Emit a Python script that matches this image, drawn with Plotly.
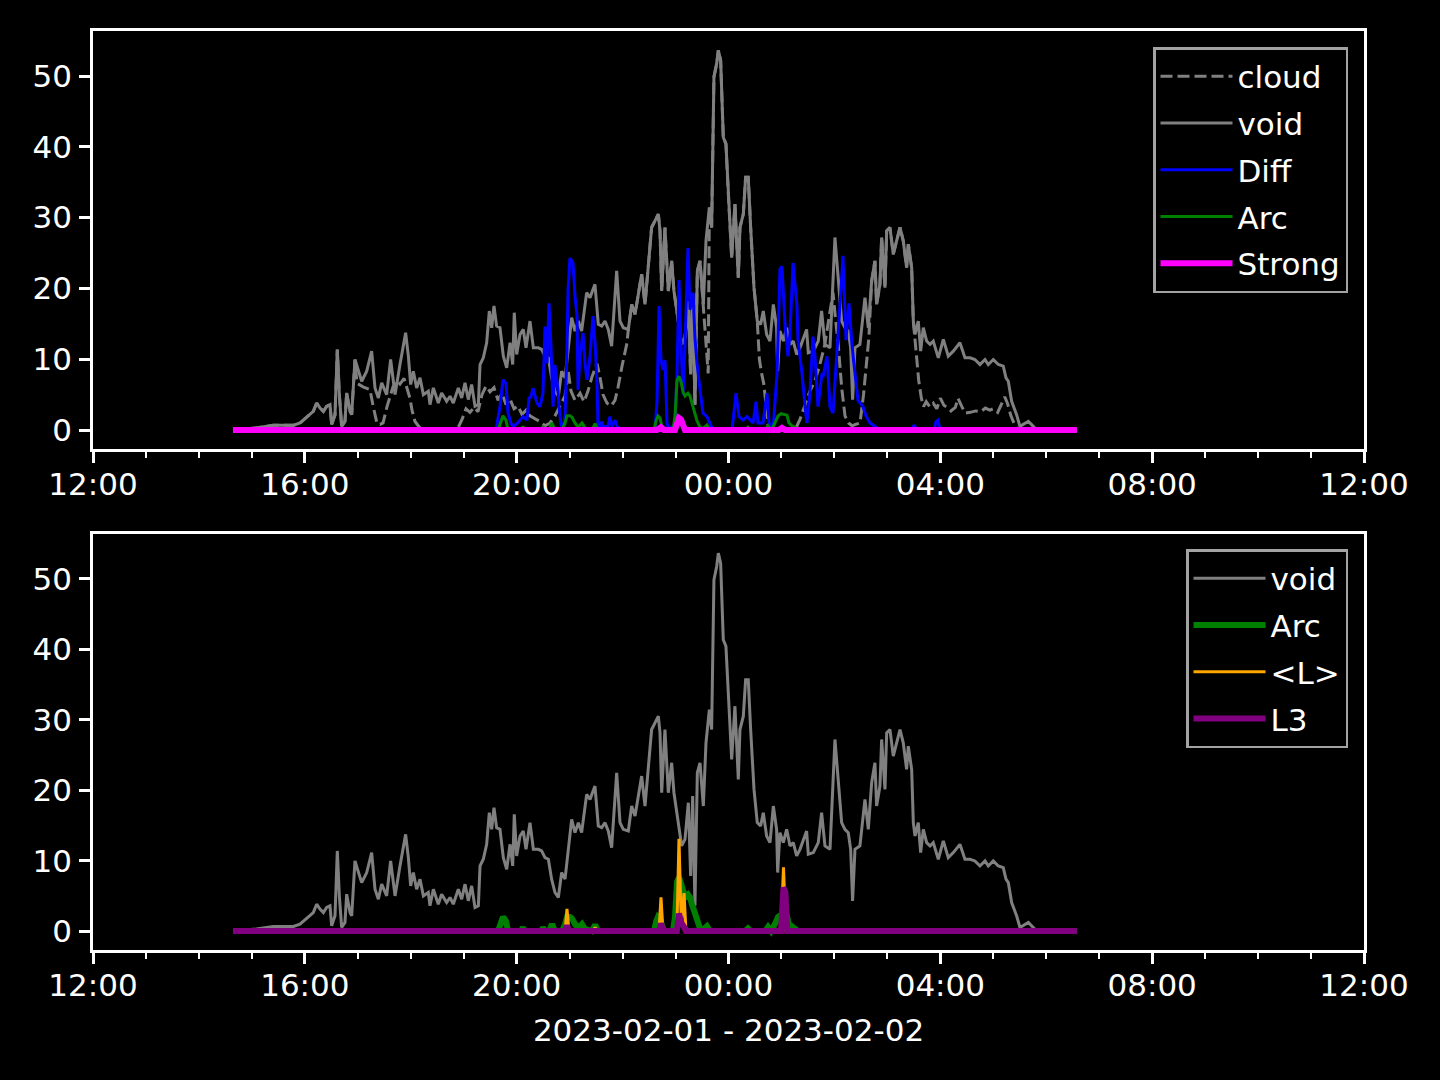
import pandas as pd
import plotly.graph_objects as go

T0 = pd.Timestamp("2023-02-01 12:00")
X_END = pd.Timestamp("2023-02-02 12:00")

# ---- data (times in minutes after 2023-02-01 12:00) ----
void_min = [158.6, 185.0, 204.3, 227.0, 234.5, 245.9, 249.6, 253.4, 257.2, 261.0, 264.7, 268.5, 270.4, 274.2,
            276.8, 279.1, 281.7, 285.5, 287.4, 291.2, 293.1, 296.8, 300.6, 304.4, 310.1, 315.7, 319.5, 323.3,
            327.1, 332.7, 337.2, 342.2, 347.8, 354.2, 357.3, 359.9, 362.9, 366.7, 370.5, 374.3, 379.9, 381.8,
            385.6, 391.2, 395.0, 400.7, 404.5, 408.2, 413.9, 417.7, 421.5, 425.2, 429.0, 432.8, 436.6, 438.5,
            442.2, 446.0, 449.0, 451.7, 454.3, 457.3, 461.1, 464.9, 468.7, 472.5, 475.5, 477.3, 480.0, 483.8,
            487.5, 490.6, 495.1, 498.9, 504.5, 508.3, 512.1, 515.9, 519.6, 523.4, 527.2, 531.0, 534.8, 538.5,
            542.3, 546.1, 549.9, 553.6, 559.3, 563.1, 568.7, 572.5, 576.3, 580.1, 583.8, 587.6, 593.3, 597.1,
            600.8, 606.5, 610.3, 614.1, 617.8, 621.6, 625.4, 629.2, 632.9, 636.7, 640.5, 642.4, 644.3, 648.0,
            651.8, 655.6, 658.2, 663.1, 666.9, 670.7, 674.5, 677.1, 679.4, 682.0, 684.7, 687.7, 691.5, 694.5,
            698.3, 700.9, 703.5, 706.6, 708.5, 711.1, 714.1, 717.1, 719.8, 723.6, 727.3, 731.1, 733.0, 736.8,
            739.4, 742.4, 745.1, 748.9, 752.6, 756.4, 759.4, 763.2, 767.0, 770.8, 774.5, 775.7, 778.3, 782.1,
            785.9, 789.7, 793.4, 797.2, 801.0, 808.5, 810.4, 816.1, 821.7, 825.5, 829.3, 835.0, 840.6, 844.4,
            848.2, 851.9, 855.7, 858.4, 860.6, 863.3, 868.9, 874.6, 878.4, 882.2, 885.9, 887.8, 891.6, 893.5,
            897.3, 899.2, 902.9, 906.7, 910.5, 914.3, 918.0, 921.8, 923.7, 927.5, 929.4, 931.3, 935.0, 937.7,
            940.7, 944.5, 948.3, 952.0, 957.7, 963.4, 969.0, 974.7, 982.2, 987.9, 993.6, 999.2, 1004.9, 1010.6,
            1014.3, 1020.0, 1025.7, 1031.3, 1034.4, 1037.0, 1040.8, 1046.4, 1050.2, 1054.0, 1059.7, 1065.3,
            1069.1, 1114.8]
void_val = [0, 0.3, 0.66, 0.66, 0.99, 2.17, 2.64, 3.82, 3.12, 2.64, 3.35, 3.59, 0.76, 2.17,
            11.38, 5.0, 0.52, 1.23, 5.24, 2.64, 2.17, 9.96, 8.31, 6.89, 8.31, 11.14, 5.95, 4.53,
            6.66, 5.0, 9.96, 5.0, 9.25, 13.74, 10.43, 6.42, 8.31, 5.95, 7.37, 5.0, 5.48, 3.59,
            5.95, 3.82, 5.24, 4.06, 4.77, 3.82, 5.95, 4.53, 6.66, 4.30, 6.42, 3.35, 3.59, 9.25,
            10.2, 12.32, 16.81, 14.45, 17.52, 14.68, 14.45, 10.43, 8.78, 12.32, 9.25, 16.57, 10.67, 13.5,
            14.21, 11.61, 15.39, 11.61, 11.61, 11.38, 10.43, 10.2, 7.37, 5.48, 4.77, 8.31, 7.37, 11.85,
            15.86, 13.98, 15.39, 13.98, 19.41, 18.7, 20.59, 14.92, 14.68, 15.39, 14.21, 11.85, 22.47, 15.39,
            14.45, 14.21, 17.75, 16.34, 19.17, 22.0, 17.75, 22.95, 28.61, 29.56, 30.5, 28.14, 19.64, 28.61,
            19.64, 23.89, 19.64, 15.39, 12.09, 13.03, 18.22, 7.84, 19.17, 3.59, 22.47, 23.89, 17.75, 26.72,
            31.44, 28.61, 49.86, 51.75, 53.64, 52.22, 41.36, 40.42, 33.33, 24.36, 31.92, 21.53, 28.61, 30.5,
            35.69, 35.69, 28.61, 20.11, 15.39, 14.92, 16.81, 13.5, 12.56, 17.75, 14.45, 8.31, 13.98, 12.56,
            14.45, 12.09, 12.56, 10.67, 11.61, 14.21, 10.91, 11.14, 12.56, 16.81, 12.09, 11.61, 27.2, 20.59,
            15.39, 14.45, 13.98, 11.61, 4.30, 11.61, 12.09, 18.7, 14.45, 21.06, 23.89, 17.75, 20.59, 27.2,
            20.11, 28.14, 28.61, 24.83, 26.72, 28.61, 26.72, 22.95, 26.25, 22.95, 15.39, 13.5, 15.39, 11.14,
            14.45, 12.56, 12.09, 12.56, 10.2, 12.8, 10.43, 11.14, 12.32, 10.2, 10.2, 9.96, 9.25, 9.96,
            9.25, 9.96, 9.25, 9.02, 7.37, 6.89, 4.06, 2.17, 0.52, 0.76, 1.23, 0.52,
            0, 0]

cloud_min = [158.6, 185.0, 204.3, 227.0, 234.5, 245.9, 249.6, 253.4, 257.2, 261.0, 264.7, 268.5, 270.4, 274.2,
             276.8, 279.1, 281.7, 285.5, 287.4, 291.2, 293.1, 296.8,
             299.1, 305.9, 313.8, 317.2, 321.8, 325.2, 328.6, 333.1, 336.5, 339.9, 344.4, 347.8, 352.4, 355.7,
             359.1, 361.4, 364.8, 370.5, 376.1, 410.1, 413.5, 418.1, 422.6, 427.1, 431.7, 436.2, 440.7, 445.3,
             449.8, 454.3, 458.9, 463.4, 467.9, 472.4, 477.0, 481.5, 486.0, 490.6, 495.1, 500.8, 506.4, 512.1,
             517.8, 523.4, 529.1, 534.8, 538.2, 541.6, 546.1, 551.8, 556.3, 560.8, 565.3, 571.0, 574.4, 577.8,
             582.3, 586.9, 591.4, 594.8, 599.3, 605.0,
             606.5, 610.3, 614.1, 617.8, 621.6, 625.4, 629.2, 632.9, 636.7, 640.5, 642.4, 644.3, 648.0,
             651.8, 655.6, 658.2, 663.1, 666.9, 670.7, 674.5, 677.1, 679.4, 682.0, 684.7, 687.7, 691.5,
             693.5, 695.6, 697.0,
             698.3, 700.9, 703.5, 706.6, 708.5, 711.1, 714.1, 717.1, 719.8, 723.6, 727.3, 731.1, 733.0, 736.8,
             739.4, 742.4, 745.1, 748.9, 752.6,
             755.0, 757.5, 760.0, 763.0, 765.0, 768.0, 795.3, 801.0, 806.7, 812.3, 818.0, 823.0, 829.0, 834.0,
             838.4, 841.0, 844.4, 848.2, 852.0, 856.0, 860.0, 864.0, 869.0, 873.0, 876.5, 879.0,
             882.2, 885.9, 887.8, 891.6, 893.5, 897.3, 899.2, 902.9, 906.7, 910.5, 914.3, 918.0, 921.8, 923.7,
             927.5, 929.4,
             933.0, 935.5, 938.5, 941.0, 944.0, 948.0, 952.0, 956.0, 960.0, 964.0, 968.0, 972.0, 977.0, 980.0,
             984.0, 988.0, 994.0, 1000.0, 1006.0, 1011.0, 1016.0, 1020.0, 1025.0, 1030.0, 1033.0, 1036.0,
             1040.0, 1044.0, 1048.0, 1114.8]
cloud_val = [0, 0.3, 0.66, 0.66, 0.99, 2.17, 2.64, 3.82, 3.12, 2.64, 3.35, 3.59, 0.76, 2.17,
             11.38, 5.0, 0.52, 1.23, 5.24, 2.64, 2.17, 9.96,
             6.6, 6.1, 5.7, 3.5, 0.9, 0.8, 1.0, 3.3, 4.7, 6.1, 7.0, 6.5, 7.3, 6.0,
             4.5, 2.8, 1.2, 0.3, 0, 0, 0.3, 1.5, 3.0, 2.5, 3.2, 2.6, 5.0, 6.2,
             5.4, 6.0, 4.2, 5.2, 3.6, 4.4, 3.0, 3.4, 2.2, 2.8, 2.0, 1.6, 1.2, 0.6,
             1.0, 2.0, 3.5, 4.8, 8.5, 5.5, 4.2, 5.2, 4.0, 5.5, 7.5, 9.4, 7.5, 5.0,
             3.8, 3.4, 4.2, 6.0, 9.0, 12.3,
             14.21, 17.75, 16.34, 19.17, 22.0, 17.75, 22.95, 28.61, 29.56, 30.5, 28.14, 19.64, 28.61,
             19.64, 23.89, 19.64, 15.39, 12.09, 13.03, 18.22, 7.84, 19.17, 3.59, 22.47, 23.89, 17.75,
             14.0, 10.0, 8.0,
             31.44, 28.61, 49.86, 51.75, 53.64, 52.22, 41.36, 40.42, 33.33, 24.36, 31.92, 21.53, 28.61, 30.5,
             35.69, 35.69, 28.61, 20.11, 15.39,
             10.0, 8.0, 6.5, 3.0, 0.5, 0, 0, 1.5, 3.5, 5.5, 7.0, 9.0, 12.0, 16.0,
             19.4, 16.0, 12.0, 6.0, 2.0, 1.0, 0.6, 0.8, 1.0, 5.0, 9.5, 13.0,
             21.06, 23.89, 17.75, 20.59, 27.2, 20.11, 28.14, 28.61, 24.83, 26.72, 28.61, 26.72, 22.95, 26.25,
             22.95, 15.39,
             11.0, 7.0, 4.5, 3.3, 4.0, 3.3, 3.8, 3.0, 4.5, 3.5, 3.2, 2.7, 3.2, 4.5,
             3.4, 2.4, 2.5, 2.7, 2.6, 3.1, 2.8, 3.0, 2.5, 4.0, 4.7, 3.8,
             2.0, 0.8, 0, 0]

diff_min = [158.6, 456.6, 461.1, 464.5, 467.9, 470.2, 473.6, 475.8, 480.4, 483.8, 487.2, 491.7, 494.0, 496.2,
            498.5, 503.0, 506.4, 509.8, 512.1, 514.4, 516.6, 518.9, 521.2, 523.4, 525.7, 526.8, 528.0, 530.2,
            532.5, 534.8, 537.0, 538.2, 540.4, 543.8, 546.1, 548.4, 549.5, 551.8, 555.2, 557.4, 559.7, 563.1,
            566.5, 568.8, 571.0, 572.1, 574.4, 576.7, 577.8, 583.5, 585.7, 588.0, 591.4, 593.7, 597.1,
            636.7, 639.0, 641.3, 643.5, 645.8, 648.1, 650.3, 652.6, 659.4, 661.7, 663.9, 666.2, 668.5, 670.7,
            674.1, 676.4, 679.8, 682.0, 684.3, 687.7, 691.1, 695.6, 699.0, 702.4, 724.0, 728.5, 731.9, 736.4,
            741.0, 744.4, 747.8, 751.2, 753.4, 759.1, 763.6, 765.9, 770.4, 775.0, 778.3, 780.6, 784.0, 787.4,
            789.7, 793.1, 797.6, 798.7, 803.3, 806.7, 808.9, 812.3, 815.7, 818.0, 821.4, 825.9, 827.1, 831.6,
            835.0, 838.4, 844.1, 848.6, 849.7, 853.1, 856.5, 859.9, 863.3, 866.7, 872.4, 875.8, 880.3, 886.0,
            891.6, 927.9, 930.2, 933.6, 952.8, 955.1, 957.4, 959.6, 1114.8]
diff_val = [0, 0, 3.3, 7.1, 6.6, 2.4, 0.9, 0.5, 0.9, 1.4, 1.9, 1.4, 4.5, 4.7,
            5.9, 3.8, 3.3, 5.2, 14.6, 9.4, 17.9, 11.8, 3.3, 9.2, 6.6, 5.7, 3.3, 0.9,
            0, 1.9, 11.3, 19.8, 24.3, 23.6, 18.9, 16.1, 5.7, 10.4, 13.7, 9.4, 7.1, 10.4,
            16.1, 12.3, 6.6, 0.9, 0.5, 1.2, 0.5, 0.5, 1.9, 0.5, 1.4, 0.5, 0,
            0, 4.0, 17.5, 10.0, 8.5, 9.9, 1.0, 0, 0.9, 8.0, 21.2, 12.0, 5.0, 12.0,
            25.7, 17.0, 19.4, 13.0, 9.4, 5.7, 2.4, 1.9, 0.9, 0, 0, 5.2, 1.9, 1.4,
            1.9, 1.4, 1.0, 4.0, 1.0, 1.0, 5.2, 1.0, 0, 8.0, 22.7, 23.1, 15.0, 10.4,
            13.7, 23.6, 17.5, 12.7, 8.0, 3.3, 1.0, 5.2, 13.2, 10.4, 3.3, 8.0, 7.5, 10.4,
            3.3, 2.4, 12.7, 22.2, 24.6, 12.7, 17.9, 12.0, 8.0, 4.2, 3.3, 2.0, 1.0, 0.5,
            0, 0, 0.7, 0, 0, 1.2, 1.4, 0, 0]

arc_min = [158.6, 458.9, 462.2, 464.5, 467.9, 470.2, 484.9, 487.2, 489.4, 507.6, 509.8, 512.1, 516.6, 520.0,
           523.4, 531.4, 534.8, 537.0, 540.4, 542.7, 546.1, 549.5, 554.0, 557.4, 565.3, 568.8, 572.1, 635.6,
           637.9, 640.1, 642.4, 644.7, 646.9, 657.1, 659.4, 661.7, 663.9, 666.2, 668.5, 670.7, 674.1, 676.4,
           678.6, 679.8, 682.0, 684.3, 687.7, 691.1, 695.6, 699.0, 738.7, 742.1, 745.5, 761.4, 764.8, 768.2,
           770.4, 773.8, 776.1, 779.5, 782.9, 786.3, 788.5, 791.9, 795.3, 798.7, 1114.8]
arc_val = [0, 0, 1.2, 2.0, 1.4, 0, 0, 0.5, 0, 0, 0.5, 0, 0, 1.0,
           0, 0, 1.0, 2.0, 2.0, 1.8, 1.0, 0.4, 1.0, 0.3, 0, 0.9, 0, 0,
           1.3, 2.0, 1.7, 0.4, 0, 0, 2.0, 7.0, 7.6, 6.8, 5.4, 4.8, 5.2, 4.8,
           3.8, 3.3, 2.3, 1.3, 0.4, 0.2, 0.7, 0, 0, 0.4, 0, 0, 0.6, 0,
           0.4, 1.3, 2.0, 2.3, 2.2, 2.1, 1.0, 0.6, 0.4, 0, 0]

strong_min = [158.6, 639.0, 643.5, 646.9, 659.4, 661.7, 663.9, 666.2, 668.5, 670.7, 777.2, 780.6, 784.0, 1114.8]
strong_val = [0, 0, 0.4, 0, 0, 0.8, 1.7, 1.5, 0.6, 0, 0, 0.3, 0, 0]

l_mean_min = [158.6, 534.8, 537.0, 539.3, 566.5, 568.8, 571.0, 641.3, 643.5, 645.8, 661.5, 663.9, 666.5,
              669.6, 671.8, 779.5, 782.3, 785.0, 1114.8]
l_mean_val = [0, 0, 3.15, 0, 0, 0.5, 0, 0, 4.8, 0, 0, 13.1, 0.8, 5.4, 0, 0, 9.05, 0, 0]

l3_min = [158.6, 534.8, 537.0, 539.3, 641.3, 643.5, 645.8, 661.5, 663.9, 666.5, 669.6, 671.8, 779.5, 781.0,
          782.3, 784.5, 786.5, 1114.8]
l3_val = [0, 0, 0.8, 0, 0, 1.1, 0, 0, 2.5, 1.2, 0.6, 0, 0, 6.0, 6.2, 5.5, 0, 0]

y_ticks = [0, 10, 20, 30, 40, 50]
x_label = "2023-02-01 - 2023-02-02"


def ts(minutes):
    return T0 + pd.to_timedelta(minutes, unit="min")


FONT = "DejaVu Sans"
FS = 31
W = 1440
H = 1080
ML, MR, MT, MB = 93, 76, 31, 130
PH = H - MT - MB


def py(pix):
    return (H - MB - pix) / PH


fig = go.Figure()

top = [
    ("cloud", cloud_min, cloud_val, "#808080", 3, "12px,5px"),
    ("void", void_min, void_val, "#808080", 3, "solid"),
    ("Diff", diff_min, diff_val, "#0000ff", 3, "solid"),
    ("Arc", arc_min, arc_val, "#008000", 3, "solid"),
    ("Strong", strong_min, strong_val, "#ff00ff", 6, "solid"),
]
for i, (name, tm, vv, col, w, dash) in enumerate(top):
    fig.add_trace(go.Scatter(x=ts(tm), y=vv, mode="lines", name=name,
                             line=dict(color=col, width=w, dash=dash),
                             legendgroup=f"t{i}",
                             xaxis="x", yaxis="y", legend="legend"))

bottom = [
    ("void", void_min, void_val, "#808080", 3),
    ("Arc", arc_min, arc_val, "#008000", 6),
    ("<L>", l_mean_min, l_mean_val, "#ffa500", 3),
    ("L3", l3_min, l3_val, "#800080", 6),
]
for i, (name, tm, vv, col, w) in enumerate(bottom):
    fig.add_trace(go.Scatter(x=ts(tm), y=vv, mode="lines", name=name,
                             line=dict(color=col, width=w),
                             legendgroup=f"b{i}",
                             xaxis="x2", yaxis="y2", legend="legend2"))

xcommon = dict(
    type="date", range=[T0, X_END], tickformat="%H:%M", dtick=4 * 3600 * 1000, tick0=T0,
    ticks="outside", ticklen=11, tickwidth=2.5, tickcolor="white",
    showline=True, linecolor="white", linewidth=2.5, mirror=True,
    showgrid=False, zeroline=False, ticklabelstandoff=-5,
    tickfont=dict(family=FONT, size=FS, color="white"),
    minor=dict(dtick=3600 * 1000, tick0=T0, ticks="outside", ticklen=6, tickwidth=2,
               tickcolor="white", showgrid=False),
)
ycommon = dict(
    range=[-2.68, 56.36], tickvals=y_ticks, ticks="outside", ticklen=11, tickwidth=2.5,
    tickcolor="white", showline=True, linecolor="white", linewidth=2.5, mirror=True,
    showgrid=False, zeroline=False, ticklabelstandoff=1,
    tickfont=dict(family=FONT, size=FS, color="white"),
)

legcommon = dict(
    xanchor="right", yanchor="top", bgcolor="black", bordercolor="#a3a3a3", borderwidth=2.5,
    font=dict(family=FONT, size=FS, color="white"), itemwidth=72, tracegroupgap=3.5,
)

fig.update_layout(
    width=W, height=H,
    margin=dict(l=ML, r=MR, t=MT, b=MB),
    paper_bgcolor="black", plot_bgcolor="black",
    font=dict(family=FONT, size=FS, color="white"),
    showlegend=True,
    xaxis=dict(domain=[0, 1], anchor="y", **xcommon),
    yaxis=dict(domain=[py(449), 1.0], anchor="x", **ycommon),
    xaxis2=dict(domain=[0, 1], anchor="y2",
                title=dict(text=x_label, standoff=18, font=dict(family=FONT, size=FS, color="white")),
                **xcommon),
    yaxis2=dict(domain=[0, py(534)], anchor="x2", **ycommon),
    legend=dict(x=(1348 - ML) / (W - ML - MR), y=py(47), **legcommon),
    legend2=dict(x=(1348 - ML) / (W - ML - MR), y=py(549), **legcommon),
)

fig.write_html(
    "out.html",
    config={"displayModeBar": False},
    post_script="document.body.style.margin='0';document.body.style.background='black';"
                "document.documentElement.style.background='black';",
)
